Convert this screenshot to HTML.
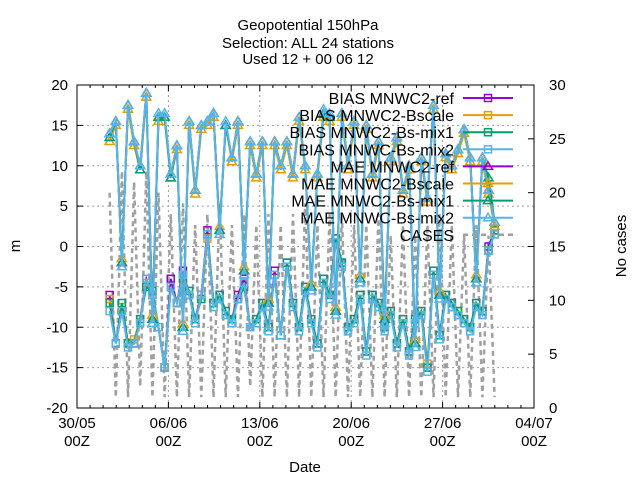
<!DOCTYPE html>
<html><head><meta charset="utf-8"><style>
html,body{margin:0;padding:0;background:#fff}
svg{display:block;font-family:"Liberation Sans","DejaVu Sans",sans-serif}
</style></head><body>
<svg id="chart" width="640" height="480" viewBox="0 0 640 480" xmlns="http://www.w3.org/2000/svg">
<rect x="0" y="0" width="640" height="480" fill="#fff"/>
<g font-size="15" text-anchor="middle" fill="#000">
<text x="308" y="30">Geopotential 150hPa</text>
<text x="308" y="48">Selection: ALL     24 stations</text>
<text x="308" y="64">Used 12 + 00 06 12</text>
</g>
<g id="grid"></g>
<g id="cases"></g>
<g id="series"></g>
<rect x="77" y="85" width="457" height="323" fill="none" stroke="#000" stroke-width="1"/>
<g id="axes" font-size="15" fill="#000"></g>
<text x="20" y="246" font-size="15" text-anchor="middle" transform="rotate(-90 20 246)">m</text>
<text x="626" y="246" font-size="15" text-anchor="middle" transform="rotate(-90 626 246)">No cases</text>
<text x="305" y="472" font-size="15" text-anchor="middle">Date</text>
<g id="legend" font-size="16"></g>
</svg>
<script>
// time in days since 30/05 00Z
const startDay = 2.5;
const stepDay = 0.468;
const xTickLabels = ["30/05","06/06","13/06","20/06","27/06","04/07"];
const yTicks = [-20,-15,-10,-5,0,5,10,15,20];
const y2Ticks = [0,5,10,15,20,25,30];
const maeRef    = [14,15.5,-2,17.5,13,10,19,-9,16,16,9,12.5,-10,15.5,7,15,15.5,16.5,2,15,11,15.5,-3,13,9,13,-7,13,10,13,9,16,10,-5,9,16.5,16,-8,16.5,10,15.5,-4,15,9,13,-9,11,13.5,7,10,-12,11,6,17.5,-6,11.5,10,12,14.5,11,-4,11,7,3];
const maeBscale = [13,15,-1.5,17,12.5,9.5,18.5,-8.5,15.5,16,8.5,12,-9.5,15,6.5,14.5,15,16,2.5,15,10.5,15,-2.5,12.5,8.5,12.5,-6.5,12.5,9.5,12.5,8.5,15.5,9.5,-4.5,8.5,16,15.5,-7.5,16,9.5,15,-3.5,14.5,8.5,12.5,-8.5,10.5,13,6.5,9.5,-11.5,10.5,5.5,17,-5.5,11,9.5,11.5,14,10.5,-3.5,10.5,6.5,2.5];
const maeMix1   = [13.5,15.5,-2,17.5,13,9.5,19,-9,16,16,8.5,12.5,-10,15.5,7,15,15.5,16.5,2,15,11,15.5,-3,13,9,13,-7,13,10,13,9,16,10,-5,9,16.5,16,-8,16.5,10,15.5,-4,15,9,13,-9,11,13.5,7,10,-12,11,6,17.5,-6,11.5,10,12,14.5,11,-4,11,8.5,3];
const maeMix2   = [14,15.5,-2.5,17.5,13,10,19,-9.5,16.5,16.5,9,12.5,-10.5,15.5,7,15,15.5,16.5,1.5,15.5,11,15.5,-3.5,13,9,13,-7.5,13,10,13,9,16,10,-5.5,9,17,16.5,-8.5,16.5,10,15.5,-4.5,15,9,13,-9.5,11,13.5,7,10,-12.5,11,6,17.5,-6.5,11.5,10,12,14.5,11,-4.5,11,7,3];
const biasRef    = [-6,-12,-8,-12,-12,-9,-4,-6,-10,-15,-4,-7,-3,-6,-9,-6,2,-7,-6,-8,-9,-6,-4,-10,-9,-7,-10,-3,-11,-2,-7,-10,-5,-9,-12,-4,-6,1,-2,-10,-9,-6,-13,-6,-7,-10,-8,-12,-9,-13,-9,-8,-15,-3,-11,-6,-7,-8,-9,-10,-7,-8,0,2];
const biasBscale = [-6.5,-12,-7.5,-12,-11.5,-9,-4.5,-6,-10,-15,-5,-7,-4,-6,-9,-6.5,1,-7,-6.5,-8,-9,-6.5,-4.5,-10,-9,-7.5,-10,-3.5,-11,-2.5,-7.5,-10,-5.5,-9,-12,-4.5,-6.5,0.5,-2.5,-10,-9,-6.5,-13,-6.5,-7.5,-10,-8,-12,-9,-13,-9,-8,-14.5,-3.5,-11,-6.5,-7.5,-8,-9,-10,-7.5,-8,-0.5,1.5];
const biasMix1   = [-7,-12,-7,-12,-12,-9,-5,-5.5,-10,-15,-5,-7,-4,-5.5,-9,-6.5,1.5,-7,-6,-8,-9,-6.5,-5,-10,-9,-7,-10,-3.5,-11,-2,-7,-10,-5,-9,-12,-4,-6,1,-2,-10,-9,-6,-13,-6,-7,-10,-8,-12,-9,-13,-9,-8,-15,-3,-11,-6,-7,-8,-9,-10,-7,-8,-0.5,2];
const biasMix2   = [-8,-12,-8,-12.5,-12,-9.5,-4,-6,-10,-15,-5,-7,-3.5,-6,-9.5,-6,1.5,-7.5,-6.5,-8.5,-9.5,-6.5,-4.5,-10,-9.5,-7.5,-10.5,-3.5,-11,-2.5,-7.5,-10.5,-5.5,-9.5,-12.5,-4.5,-6.5,0.5,-2.5,-10.5,-9.5,-6.5,-13.5,-6.5,-7.5,-10.5,-8.5,-12.5,-9.5,-13.5,-9.5,-8.5,-15.5,-3.5,-11.5,-6.5,-7.5,-8.5,-9.5,-10.5,-7.5,-8.5,-0.5,1.5];
const cases = [20,1,22,1,21,2,22,1,20,1,18,1,19,1,17,1,18,1,19,1,17,1,18,2,17,1,18,1,17,1,18,1,19,1,17,1,18,1,18,1,17,1,17,1,18,1,16,1,17,1,16,1,17,1,18,1,17,1,16,1,17,1,16,1];

const NS="http://www.w3.org/2000/svg";
const X0=77,X1=534,Y0=85,Y1=408;
const xs = d => X0 + (d/35)*(X1-X0);
const ys = v => Y1 - (v+20)/40*(Y1-Y0);
const y2s = v => Y1 - v/30*(Y1-Y0);
function mk(tag, attrs, parent){const e=document.createElementNS(NS,tag);for(const k in attrs)e.setAttribute(k,attrs[k]);parent.appendChild(e);return e;}
const grid=document.getElementById('grid'), axes=document.getElementById('axes');
yTicks.forEach(v=>{
  const y=ys(v);
  if(v>-20&&v<20){const g=mk('line',{x1:X0,x2:X1,y1:y,y2:y,stroke:'#a0a0a0','stroke-dasharray':'2,3','stroke-width':1},grid);
  
  }
  mk('line',{x1:X0,x2:X0+6,y1:y,y2:y,stroke:'#000'},axes);
  const t=mk('text',{x:X0-9,y:y+5,'text-anchor':'end'},axes);t.textContent=v;
  
  
});
y2Ticks.forEach(v=>{
  const y=y2s(v);
  mk('line',{x1:X1-6,x2:X1,y1:y,y2:y,stroke:'#000'},axes);
  const t=mk('text',{x:X1+15,y:y+5,'text-anchor':'start'},axes);t.textContent=v;
  
  
});
for(let d=0;d<=35;d++){
  const x=xs(d);
  const major=d%7===0;
  mk('line',{x1:x,x2:x,y1:Y1,y2:Y1-(major?6:3),stroke:'#000'},axes);
  mk('line',{x1:x,x2:x,y1:Y0,y2:Y0+(major?6:3),stroke:'#000'},axes);
  if(major){
    if(d>0&&d<35){const g=mk('line',{x1:x,x2:x,y1:Y0,y2:Y1,stroke:'#a0a0a0','stroke-dasharray':'2,3'},grid);
    
    }
    const t=mk('text',{x:x,y:428,'text-anchor':'middle'},axes);t.textContent=xTickLabels[d/7];
    
    
    const t2=mk('text',{x:x,y:446,'text-anchor':'middle'},axes);t2.textContent='00Z';
    
    
  }
}
const cg=document.getElementById('cases');
const cpts=cases.map((v,i)=>xs(startDay+i*stepDay).toFixed(1)+','+y2s(v).toFixed(1)).join(' ');
const cl=mk('polyline',{points:cpts,fill:'none',stroke:'#a0a0a0','stroke-width':2.5,'stroke-dasharray':'5,4'},cg);


const sg=document.getElementById('series');
const colors=['#9400d3','#e69f00','#009e73','#56b4e9'];
const names=['MNWC2-ref','MNWC2-Bscale','MNWC2-Bs-mix1','MNWC-Bs-mix2'];
const bias=[biasRef,biasBscale,biasMix1,biasMix2];
const mae=[maeRef,maeBscale,maeMix1,maeMix2];
function marker(type,x,y,c,parent){
  let m;
  if(type==='sq') m=mk('rect',{x:x-3.5,y:y-3.5,width:7,height:7,fill:'none',stroke:c,'stroke-width':1.5},parent);
  else m=mk('polygon',{points:`${x},${y-4.5} ${x+4.5},${y+3} ${x-4.5},${y+3}`,fill:'none',stroke:c,'stroke-width':1.5},parent);
  return m;
}
function drawSeries(arr,c,type,name){
  const g=mk('g',{},sg);
  
  
  const pts=arr.map((v,i)=>[xs(startDay+i*stepDay),ys(v)]);
  mk('polyline',{points:pts.map(p=>p[0].toFixed(1)+','+p[1].toFixed(1)).join(' '),fill:'none',stroke:c,'stroke-width':2},g);
  pts.forEach(p=>{const m=marker(type,p[0],p[1],c,g);
    
    });
}
for(let k=0;k<4;k++) drawSeries(bias[k],colors[k],'sq','bias-'+names[k].toLowerCase());
for(let k=0;k<4;k++) drawSeries(mae[k],colors[k],'tri','mae-'+names[k].toLowerCase());
const lg=document.getElementById('legend');
const labels=[],lcol=[],ltype=[];
for(let k=0;k<4;k++){labels.push('BIAS '+names[k]);lcol.push(colors[k]);ltype.push('sq');}
for(let k=0;k<4;k++){labels.push('MAE '+names[k]);lcol.push(colors[k]);ltype.push('tri');}
labels.push('CASES');lcol.push('#a0a0a0');ltype.push('none');
labels.forEach((l,i)=>{
  const y=98+i*17.1;
  const g=mk('g',{},lg);
  
  
  const t=mk('text',{x:454,y:y+6,'text-anchor':'end'},g);t.textContent=l;
  if(ltype[i]==='none') mk('line',{x1:463,x2:513,y1:y,y2:y,stroke:lcol[i],'stroke-width':2.5,'stroke-dasharray':'5,4'},g);
  else {mk('line',{x1:463,x2:513,y1:y,y2:y,stroke:lcol[i],'stroke-width':2},g);marker(ltype[i],488,y,lcol[i],g);}
});
</script>
</body></html>
